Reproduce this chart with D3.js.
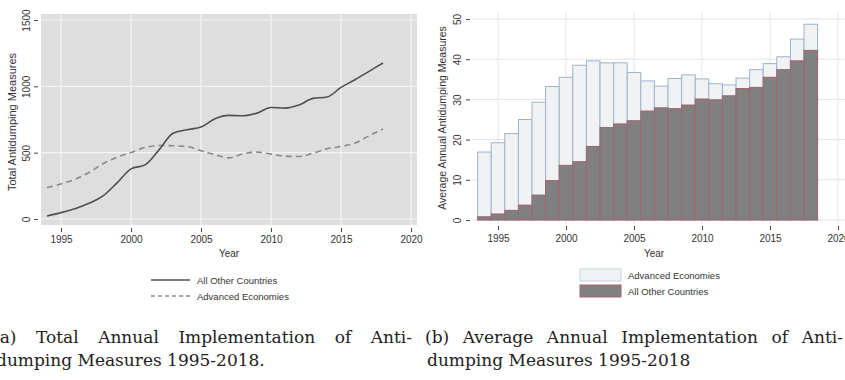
<!DOCTYPE html>
<html><head><meta charset="utf-8">
<script src="https://cdn.jsdelivr.net/npm/d3@7"></script>
<style>
body{margin:0;background:#fff;}
svg{display:block;}
</style></head>
<body>
<svg id="c" width="845" height="380"></svg>
<script>
const years = d3.range(1994, 2019);
// Panel (a): total antidumping measures
const totalOther = [23,48,78,118,174,272,378,408,521,647,673,693,756,781,778,798,841,836,859,909,919,992,1050,1113,1176];
const totalAdvanced = [237,264,300,350,416,466,501,539,554,552,547,514,484,461,491,504,489,474,471,496,529,547,572,627,678];
// Panel (b): average annual antidumping measures
const avgAdvanced = [16.9,19.2,21.5,25.0,29.3,33.2,35.5,38.5,39.6,39.1,39.1,36.7,34.6,33.3,35.2,36.1,35.1,33.9,33.6,35.3,37.4,38.9,40.6,45.0,48.7];
const avgOther = [0.8,1.5,2.4,3.7,6.2,9.8,13.6,14.5,18.3,23.0,23.9,24.7,27.1,27.9,27.7,28.6,30.1,29.9,30.9,32.7,33.0,35.5,37.4,39.6,42.2];
const xTicks = [1995,2000,2005,2010,2015,2020];
const yTicksA = [0,500,1000,1500];
const yTicksB = [0,10,20,30,40,50];
const legendA = ["All Other Countries","Advanced Economies"];
const legendB = ["Advanced Economies","All Other Countries"];
const captionA = ["(a) Total Annual Implementation of Anti-","dumping Measures 1995-2018."];
const captionB = ["(b) Average Annual Implementation of Anti-","dumping Measures 1995-2018"];

const svg = d3.select("#c");
const sans = "'Liberation Sans', Arial, sans-serif";
const serif = "'DejaVu Serif', 'Liberation Serif', serif";

// ---------- Panel A ----------
const xA = d3.scaleLinear().domain([1995,2020]).range([61,411]);
const yA = d3.scaleLinear().domain([0,1500]).range([219,20]);
const gA = svg.append("g");
gA.append("rect").attr("x",41).attr("y",14).attr("width",376).attr("height",211).attr("fill","#dedede");
gA.selectAll(".vg").data(xTicks).join("line")
  .attr("x1",d=>xA(d)).attr("x2",d=>xA(d)).attr("y1",14).attr("y2",225)
  .attr("stroke","#f4f4f4").attr("stroke-width",1.2);
gA.selectAll(".hg").data(yTicksA).join("line")
  .attr("y1",d=>yA(d)).attr("y2",d=>yA(d)).attr("x1",41).attr("x2",417)
  .attr("stroke","#f4f4f4").attr("stroke-width",1.2);
const axXA = gA.append("g").attr("transform","translate(0,228)")
  .call(d3.axisBottom(xA).tickValues(xTicks).tickFormat(d3.format("d")).tickSize(4).tickPadding(4));
const axYA = gA.append("g").attr("transform","translate(38,0)")
  .call(d3.axisLeft(yA).tickValues(yTicksA).tickFormat(d3.format("d")).tickSize(4).tickPadding(3));
[axXA,axYA].forEach(a=>{a.select(".domain").remove();
  a.selectAll("line").attr("stroke","#444");
  a.selectAll("text").attr("font-family",sans).attr("font-size",10).attr("fill","#333");});
axYA.selectAll("text").each(function(){d3.select(this).attr("x",null).attr("dy","0").attr("y",0)
  .attr("text-anchor","middle").attr("transform","translate(-8,0) rotate(-90)");});
gA.append("text").attr("x",229).attr("y",257).attr("text-anchor","middle")
  .attr("font-family",sans).attr("font-size",10).attr("fill","#333").text("Year");
gA.append("text").attr("transform","translate(16,122) rotate(-90)").attr("text-anchor","middle")
  .attr("font-family",sans).attr("font-size",11).attr("fill","#333").text("Total Antidumping Measures");
const lineA = d3.line().x((d,i)=>xA(years[i])).y(d=>yA(d)).curve(d3.curveMonotoneX);
gA.append("path").datum(totalAdvanced).attr("d",lineA).attr("fill","none")
  .attr("stroke","#8a8a8a").attr("stroke-width",1.6).attr("stroke-dasharray","6,4");
gA.append("path").datum(totalOther).attr("d",lineA).attr("fill","none")
  .attr("stroke","#505050").attr("stroke-width",1.6);
// legend A
const lgA = gA.append("g");
legendA.forEach((t,i)=>{
  const y = 280 + i*16;
  lgA.append("line").attr("x1",151).attr("x2",190).attr("y1",y).attr("y2",y)
    .attr("stroke", i===0?"#505050":"#8a8a8a").attr("stroke-width",1.4)
    .attr("stroke-dasharray", i===0?null:"4,3");
  lgA.append("text").attr("x",197).attr("y",y+3.5).attr("font-family",sans).attr("font-size",9.5)
    .attr("fill","#333").text(t);
});

// ---------- Panel B ----------
const xB = d3.scaleLinear().domain([1995,2020]).range([498,838]);
const yB = d3.scaleLinear().domain([0,50]).range([220,19]);
const gB = svg.append("g");
gB.selectAll(".vg").data(xTicks).join("line")
  .attr("x1",d=>xB(d)).attr("x2",d=>xB(d)).attr("y1",12).attr("y2",224)
  .attr("stroke","#dfe5ea").attr("stroke-width",1);
gB.selectAll(".hg").data(yTicksB).join("line")
  .attr("y1",d=>yB(d)).attr("y2",d=>yB(d)).attr("x1",471).attr("x2",845)
  .attr("stroke","#dfe5ea").attr("stroke-width",1);
const bw = xB(1995)-xB(1994);
gB.selectAll(".adv").data(avgAdvanced).join("rect")
  .attr("x",(d,i)=>xB(years[i])-bw/2).attr("width",bw)
  .attr("y",d=>yB(d)).attr("height",d=>yB(0)-yB(d))
  .attr("fill","#f1f2f4").attr("stroke","#9db3c9").attr("stroke-width",1);
gB.selectAll(".oth").data(avgOther).join("rect")
  .attr("x",(d,i)=>xB(years[i])-bw/2).attr("width",bw)
  .attr("y",d=>yB(d)).attr("height",d=>yB(0)-yB(d))
  .attr("fill","#808080").attr("stroke","#a0646e").attr("stroke-width",1);
const axXB = gB.append("g").attr("transform","translate(0,226)")
  .call(d3.axisBottom(xB).tickValues(xTicks).tickFormat(d3.format("d")).tickSize(4).tickPadding(5));
const axYB = gB.append("g").attr("transform","translate(470,0)")
  .call(d3.axisLeft(yB).tickValues(yTicksB).tickSize(4).tickPadding(3));
[axXB,axYB].forEach(a=>{a.select(".domain").remove();
  a.selectAll("line").attr("stroke","#444");
  a.selectAll("text").attr("font-family",sans).attr("font-size",10).attr("fill","#333");});
axYB.selectAll("text").each(function(){d3.select(this).attr("x",null).attr("dy","0").attr("y",0)
  .attr("text-anchor","middle").attr("transform","translate(-9,0) rotate(-90)");});
gB.append("text").attr("x",654).attr("y",257).attr("text-anchor","middle")
  .attr("font-family",sans).attr("font-size",10).attr("fill","#333").text("Year");
gB.append("text").attr("transform","translate(446,118) rotate(-90)").attr("text-anchor","middle")
  .attr("font-family",sans).attr("font-size",10.5).attr("fill","#333").text("Average Annual Antidumping Measures");
const lgB = gB.append("g");
legendB.forEach((t,i)=>{
  const y = 269 + i*16;
  lgB.append("rect").attr("x",580).attr("y",y).attr("width",41).attr("height",12)
    .attr("fill", i===0?"#f1f2f4":"#808080").attr("stroke", i===0?"#c8d2dc":"#a0646e");
  lgB.append("text").attr("x",628).attr("y",y+9.5).attr("font-family",sans).attr("font-size",9.5)
    .attr("fill","#333").text(t);
});

// ---------- Captions ----------
const cap = svg.append("g").attr("font-family",serif).attr("font-size",17).attr("fill","#222");
function justified(x, y, str, width){
  const t = cap.append("text").attr("x",x).attr("y",y).text(str);
  const w = t.node().getComputedTextLength();
  const n = (str.match(/ /g)||[]).length;
  if (n>0 && w<width) t.attr("word-spacing", (width-w)/n);
  return t;
}
justified(-7, 343, captionA[0], 419);
cap.append("text").attr("x",-4).attr("y",366).text(captionA[1]);
justified(425, 343, captionB[0], 418);
cap.append("text").attr("x",427).attr("y",366).text(captionB[1]);
</script>
</body></html>
